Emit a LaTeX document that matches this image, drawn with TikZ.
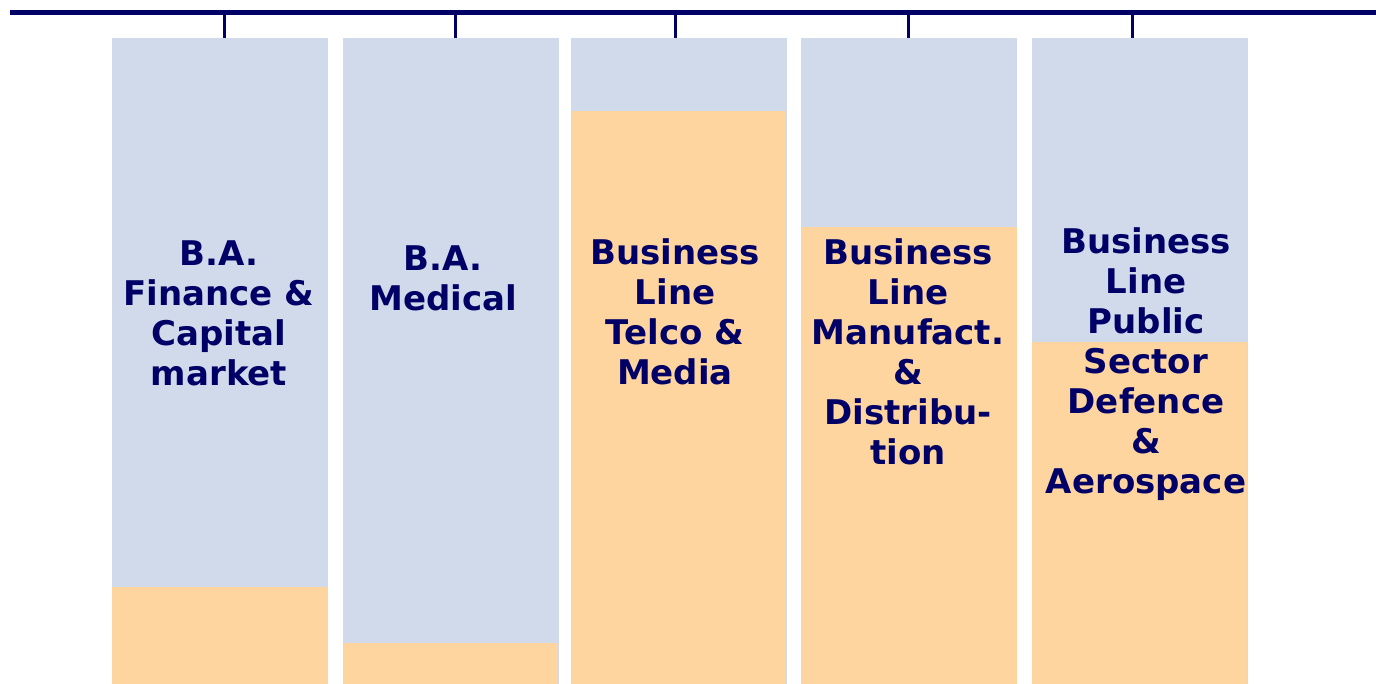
\documentclass[tikz,border=0pt]{standalone}
\usepackage{fontspec}
\setmainfont{DejaVu Sans}
\usepackage{xcolor}
\usepackage{tikz}
\usetikzlibrary{positioning}
\definecolor{barnavy}{RGB}{0, 0, 102}
\definecolor{colblue}{RGB}{208, 218, 234}
\definecolor{colorange}{RGB}{254, 213, 158}

\begin{document}
\begin{tikzpicture}[
  x=1pt, y=-1pt,
  colbox/.style={rectangle, fill=colblue, draw=none, inner sep=0pt, anchor=north west,
               minimum width=216pt, minimum height=646pt},
  share/.style={fill=colorange},
  label/.style={align=center, anchor=base, inner sep=0pt, text=barnavy,
               font=\bfseries\fontsize{34}{40}\selectfont},
  tick/.style={draw=barnavy, line width=3pt}
]
\useasboundingbox (0,0) rectangle (1376,683);

% columns
\node[colbox] (col1) at (112,38) {};
\node[colbox] (col2) at (343,38) {};
\node[colbox] (col3) at (571,38) {};
\node[colbox] (col4) at (801,38) {};
\node[colbox] (col5) at (1032,38) {};

% orange shares
\fill[share] (col1.south west) rectangle (328,587);
\fill[share] (col2.south west) rectangle (558,643);
\fill[share] (col3.south west) rectangle (786,111);
\fill[share] (col4.south west) rectangle (1017,227);
\fill[share] (col5.south west) rectangle (1247,342);

% top bar and ticks
\coordinate (barl) at (10,12.5);
\coordinate (barr) at (1376,12.5);
\draw[barnavy, line width=5.5pt] (barl) -- (barr);
\coordinate (t1) at (224,12.5);
\coordinate (t2) at (455,12.5);
\coordinate (t3) at (675,12.5);
\coordinate (t4) at (908,12.5);
\coordinate (t5) at (1132,12.5);
\draw[tick] (t1) -- (t1 |- col1.north);
\draw[tick] (t2) -- (t2 |- col2.north);
\draw[tick] (t3) -- (t3 |- col3.north);
\draw[tick] (t4) -- (t4 |- col4.north);
\draw[tick] (t5) -- (t5 |- col5.north);

% labels (base = last line)
\node[label] (lab1) at (219,385) {B.A.\\Finance \&\\Capital\\market};
\node[label] (lab2) at (443,310) {B.A.\\Medical};
\node[label] (lab3) at (675,384) {Business\\Line\\Telco \&\\Media};
\node[label] (lab4) at (908,464) {Business\\Line\\Manufact.\\\&\\Distribu-\\tion};
\node[label] (lab5) at (1146,493) {Business\\Line\\Public\\Sector\\Defence\\\&\\Aerospace};

\end{tikzpicture}
\end{document}
